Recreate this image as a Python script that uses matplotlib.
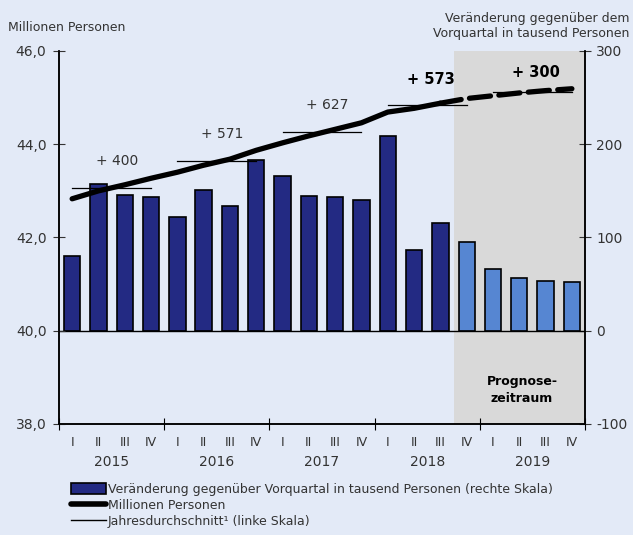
import numpy as np
import matplotlib.pyplot as plt
from matplotlib.patches import Patch
from matplotlib.lines import Line2D

quarters = ["I", "II", "III", "IV"] * 5
years = ["2015", "2016", "2017", "2018", "2019"]

# change vs previous quarter, thousand persons (right scale)
change = [80, 157, 146, 143, 122, 151, 134, 183, 166, 144, 143, 140,
          209, 87, 116, 95, 66, 57, 53, 52]
# employed persons, millions (left scale)
persons = [42.83, 43.00, 43.13, 43.27, 43.40, 43.55, 43.68, 43.87,
           44.03, 44.18, 44.32, 44.46, 44.69, 44.77, 44.88, 44.98,
           45.04, 45.10, 45.15, 45.19]
year_avg = [43.07, 43.64, 44.27, 44.84, 45.13]
year_labels = ["+ 400", "+ 571", "+ 627", "+ 573", "+ 300"]
n_actual = 15  # quarters up to 2018 III are observed

bg = "#e3eaf7"
navy = "#232a83"
light = "#5686d2"
grey = "#333333"

fig = plt.figure(figsize=(6.33, 5.35), dpi=100, facecolor=bg)
ax = fig.add_axes([0.0932, 0.2075, 0.831, 0.6972])
ax.set_facecolor(bg)
x = np.arange(len(change))

ax.axvspan(n_actual - 0.5, 19.5, color="#d9d9d9", zorder=0, lw=0)
colors = [navy] * n_actual + [light] * (len(change) - n_actual)
ax.bar(x, change, width=0.62, color=colors, edgecolor="black", linewidth=1.2, zorder=2)
ax.axhline(0, color="black", lw=1, zorder=3)
ax.set_xlim(-0.5, 19.5)
ax.set_ylim(-100, 300)

ax2 = ax.twinx()
ax.yaxis.tick_right()
ax.set_yticks([-100, 0, 100, 200, 300])
ax.set_yticklabels(["-100", "0", "100", "200", "300"])
ax.tick_params(axis="y", direction="inout", length=8, labelsize=10, colors=grey, pad=4)

ax2.set_ylim(38, 46)
ax2.yaxis.tick_left()
ax2.set_yticks([38, 40, 42, 44, 46])
ax2.set_yticklabels(["38,0", "40,0", "42,0", "44,0", "46,0"])
ax2.tick_params(axis="y", direction="inout", length=8, labelsize=10, colors=grey, pad=5)

ax2.plot(x[:n_actual], persons[:n_actual], color="black", lw=3.8, solid_capstyle="round", zorder=5)
ax2.plot(x[n_actual - 1:], persons[n_actual - 1:], color="black", lw=3.8,
         dashes=(4, 1.6), dash_capstyle="round", zorder=5)

for i, (avg, lab) in enumerate(zip(year_avg, year_labels)):
    ax2.plot([4 * i, 4 * i + 3], [avg, avg], color="black", lw=0.9, zorder=4)
    if i < 3:
        ax2.text(4 * i + 1.7, avg + 0.57, lab, ha="center", va="center",
                 fontsize=10, color=grey)
    else:
        ax2.text(4 * i + 1.65, avg + 0.55 - 0.15 * (i - 3), lab, ha="center", va="center",
                 fontsize=10.5, fontweight="bold", color="black")

ax2.text(17.1, 38.73, "Prognose-\nzeitraum", ha="center", va="center", fontsize=9,
         fontweight="bold", linespacing=1.35)

for a in (ax, ax2):
    a.spines["top"].set_visible(False)
    for s in ("left", "right", "bottom"):
        a.spines[s].set_linewidth(1.1)

ax.set_xticks(np.arange(-0.5, 20, 4))
ax.set_xticklabels([])
ax.tick_params(axis="x", direction="inout", length=8)
for i, q in enumerate(quarters):
    ax.text(x[i], -113, q, ha="center", va="top", fontsize=9, color=grey)
for i, y in enumerate(years):
    ax.text(4 * i + 1.5, -133, y, ha="center", va="top", fontsize=10, color=grey)

fig.text(0.013, 0.949, "Millionen Personen", fontsize=9, color=grey, va="center")
fig.text(0.995, 0.951, "Veränderung gegenüber dem\nVorquartal in tausend Personen",
         ha="right", va="center", fontsize=9, color=grey, linespacing=1.25)

handles = [Patch(facecolor=navy, edgecolor="black", linewidth=1.2),
           Line2D([], [], color="black", lw=4, solid_capstyle="round"),
           Line2D([], [], color="black", lw=1)]
labels = ["Veränderung gegenüber Vorquartal in tausend Personen (rechte Skala)",
          "Millionen Personen",
          "Jahresdurchschnitt¹ (linke Skala)"]
fig.legend(handles, labels, loc="lower left", bbox_to_anchor=(0.095, -0.008), frameon=False,
           fontsize=9, handlelength=2.8, handletextpad=0.1, labelspacing=0.25,
           handleheight=0.9, labelcolor=grey)

fig.savefig("out.png", dpi=100, facecolor=bg)
